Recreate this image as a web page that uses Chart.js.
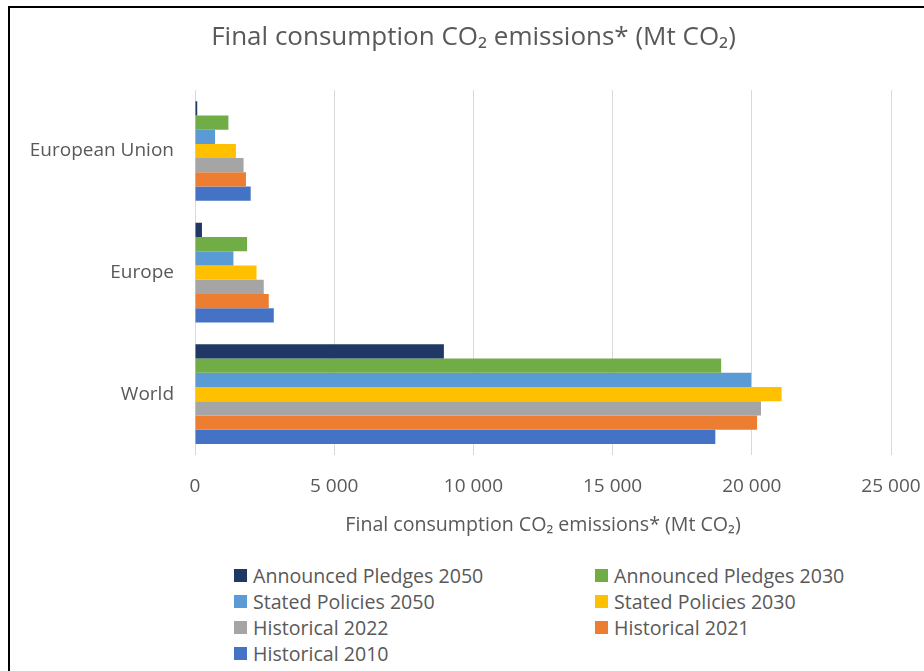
<!DOCTYPE html>
<html>
<head>
<meta charset="utf-8">
<script src="https://cdn.jsdelivr.net/npm/chart.js@4/dist/chart.umd.min.js"></script>
<style>
  body { margin: 0; background: #fff; }
  #wrap { position: relative; width: 924px; height: 671px; overflow: hidden; }
  #frame { position: absolute; left: 8px; top: 6px; right: -10px; bottom: -10px; border-left: 2px solid #000; border-top: 2px solid #000; }
  #chartBox { position: absolute; left: 0; top: 0; width: 924px; height: 556px; }
  #legend { position: absolute; left: 234px; top: 564px; display: grid; grid-template-columns: 361px 300px; row-gap: 4px;
            font-family: "Open Sans", sans-serif; font-size: 19.6px; color: #595959; }
  #legend .item { display: flex; align-items: center; height: 22px; white-space: nowrap; }
  #legend .box { width: 13px; height: 13px; margin-right: 6px; }
</style>
</head>
<body>
<div id="wrap">
  <div id="frame"></div>
  <div id="chartBox"><canvas id="co2Chart"></canvas></div>
  <div id="legend"></div>
</div>
<script>
const regions = ['European Union', 'Europe', 'World'];

const seriesNames = ['Announced Pledges 2050', 'Announced Pledges 2030', 'Stated Policies 2050',
                     'Stated Policies 2030', 'Historical 2022', 'Historical 2021', 'Historical 2010'];

// values per region: EU, Europe, World (Mt CO2)
const pledges2050  = [80, 250, 8940];
const pledges2030  = [1200, 1870, 18900];
const stated2050   = [720, 1380, 19980];
const stated2030   = [1470, 2210, 21070];
const hist2022     = [1745, 2470, 20330];
const hist2021     = [1830, 2650, 20190];
const hist2010     = [2000, 2830, 18690];

const xTicks = [0, 5000, 10000, 15000, 20000, 25000];

const colors = ['#1f3864', '#70ad47', '#5b9bd5', '#ffc000', '#a5a5a5', '#ed7d31', '#4472c4'];
const allSeries = [pledges2050, pledges2030, stated2050, stated2030, hist2022, hist2021, hist2010];

const gray = '#595959';
const font = '"Open Sans", sans-serif';

function spaced(v) {
    return String(v).replace(/\B(?=(\d{3})+(?!\d))/g, ' ');
}

let datasets = [];
for (let i = 0; i < seriesNames.length; i++) {
    datasets.push({
        label: seriesNames[i],
        data: allSeries[i],
        backgroundColor: colors[i],
        borderWidth: 0,
        barPercentage: 1.0,
        categoryPercentage: 0.82
    });
}

// the chart title is centred on the frame, not on the plot
const titleShift = {
    id: 'titleShift',
    afterLayout(chart) {
        if (chart.titleBlock) {
            chart.titleBlock.left = 56;
            chart.titleBlock.right = 891;
        }
    }
};

const co2Chart = new Chart('co2Chart', {
    type: 'bar',
    data: {
        labels: regions,
        datasets: datasets
    },
    plugins: [titleShift],
    options: {
        indexAxis: 'y',
        responsive: true,
        maintainAspectRatio: false,
        animation: false,
        layout: { padding: { left: 0, right: 33, top: 0, bottom: 0 } },
        plugins: {
            legend: { display: false },
            tooltip: { enabled: false },
            title: {
                display: true,
                text: 'Final consumption CO₂ emissions* (Mt CO₂)',
                color: gray,
                font: { family: font, size: 26, weight: 'normal' },
                padding: { top: 22, bottom: 37 }
            }
        },
        scales: {
            x: {
                min: 0,
                max: 25000,
                afterBuildTicks: axis => { axis.ticks = xTicks.map(v => ({ value: v })); },
                afterFit: s => { s.height = 101; s.paddingLeft = 0; s.paddingRight = 0; },
                grid: { color: '#d9d9d9', drawTicks: false },
                border: { display: false },
                ticks: {
                    color: gray,
                    padding: 20,
                    font: { family: font, size: 19 },
                    callback: v => spaced(v)
                },
                title: {
                    display: true,
                    text: 'Final consumption CO₂ emissions* (Mt CO₂)',
                    color: gray,
                    font: { family: font, size: 19.6 },
                    padding: { top: 19, bottom: 19 }
                }
            },
            y: {
                grid: { display: false, drawTicks: false },
                border: { display: false },
                afterFit: s => { s.width = 195; },
                ticks: {
                    color: gray,
                    padding: 21,
                    font: { family: font, size: 19 }
                }
            }
        }
    }
});

// html legend in two columns, built from the chart's datasets
let legendHtml = '';
co2Chart.data.datasets.forEach(ds => {
    legendHtml += `<div class="item"><span class="box" style="background:${ds.backgroundColor}"></span>${ds.label}</div>`;
});
document.getElementById('legend').innerHTML = legendHtml;
</script>
</body>
</html>
